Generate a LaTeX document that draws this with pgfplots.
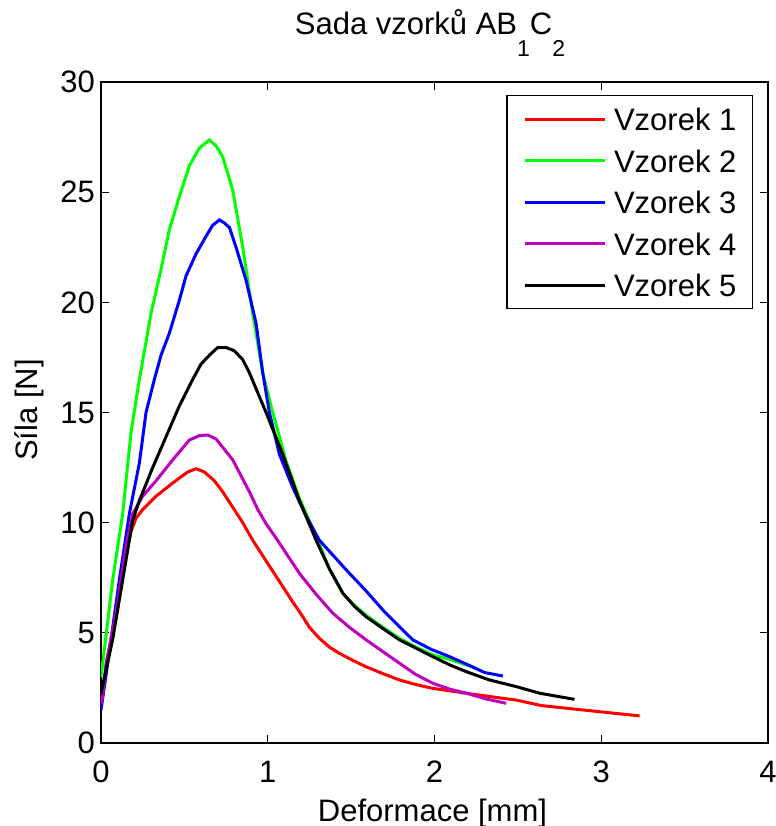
\documentclass[border=0pt]{standalone}
\usepackage{fontspec}
\setmainfont{Liberation Sans}
\usepackage{pgfplots}
\pgfplotsset{compat=1.18}
\definecolor{mred}{rgb}{1,0,0}
\definecolor{mgreen}{rgb}{0,1,0}
\definecolor{mblue}{rgb}{0,0,1}
\definecolor{mmag}{rgb}{0.75,0,0.75}
\begin{document}
\begin{tikzpicture}[font=\fontsize{15.5}{18}\selectfont]
\useasboundingbox (-50.5pt,-41.5pt) rectangle (337.5pt,371.5pt);
\begin{axis}[
  at={(0,0)}, anchor=south west,
  scale only axis, width=333.5pt, height=330.5pt,
  xmin=0, xmax=4, ymin=0, ymax=30,
  xtick={0,1,2,3,4}, ytick={0,5,10,15,20,25,30},
  /pgf/number format/assume math mode=true,
  tick label style={font=\fontsize{15.5}{18}\selectfont},
  xticklabel style={anchor=base, yshift=-19.5pt},
  yticklabel style={anchor=east, xshift=0.5pt},
  tick align=inside, major tick length=4pt,
  axis line style={line width=0.6pt},
  every tick/.style={black, line width=0.6pt},
  legend style={at={(0.9775,0.9803)}, anchor=north east,
    font=\fontsize{15.5}{18}\selectfont, draw=black, line width=0.6pt,
    inner xsep=8pt, inner ysep=6pt, row sep=9.25pt, column sep=4pt,
    nodes={inner sep=0pt, text height=11.5pt, text depth=0pt}},
  legend cell align=left,
  legend image code/.code={\draw[#1, line width=1.5pt] (0pt,0pt) -- (40pt,0pt);},
  every axis plot/.append style={line width=1.5pt, no markers},
]
\addplot[mred] coordinates {
(0.0,2.0) (0.05,4.2) (0.10,6.5) (0.15,8.6) (0.18,9.6) (0.21,10.2) (0.25,10.6) (0.33,11.2) (0.43,11.8) (0.52,12.3) (0.57,12.45) (0.62,12.3) (0.68,11.9) (0.73,11.4) (0.79,10.7) (0.85,10.0) (0.91,9.2) (0.97,8.5) (1.03,7.8) (1.09,7.1) (1.15,6.4) (1.20,5.85) (1.25,5.25) (1.31,4.75) (1.37,4.35) (1.43,4.07) (1.51,3.75) (1.59,3.46) (1.69,3.15) (1.79,2.86) (1.89,2.65) (1.99,2.48) (2.19,2.26) (2.34,2.1) (2.49,1.95) (2.64,1.7) (2.79,1.58) (2.99,1.42) (3.23,1.23)
};
\addlegendentry{Vzorek 1}
\addplot[mgreen] coordinates {
(0.0,3.0) (0.01,3.6) (0.07,7.4) (0.13,10.4) (0.18,14.1) (0.23,16.5) (0.27,18.2) (0.30,19.5) (0.36,21.5) (0.41,23.3) (0.47,24.8) (0.53,26.2) (0.59,27.0) (0.65,27.37) (0.69,27.1) (0.73,26.6) (0.79,25.1) (0.85,22.5) (0.91,19.5) (0.97,16.8) (1.03,15.0) (1.11,12.8) (1.19,11.1) (1.29,9.4) (1.37,7.9) (1.45,6.8) (1.52,6.25) (1.59,5.8) (1.69,5.25) (1.79,4.75) (1.89,4.35) (1.99,4.0) (2.09,3.8) (2.17,3.6) (2.25,3.4)
};
\addlegendentry{Vzorek 2}
\addplot[mblue] coordinates {
(0.0,1.5) (0.04,3.6) (0.11,7.4) (0.17,10.4) (0.23,12.7) (0.27,15.0) (0.32,16.5) (0.36,17.6) (0.41,18.6) (0.47,20.1) (0.51,21.2) (0.57,22.2) (0.63,23.0) (0.67,23.5) (0.71,23.74) (0.74,23.6) (0.77,23.4) (0.81,22.5) (0.87,21.0) (0.93,19.05) (0.97,16.8) (1.01,15.0) (1.07,13.1) (1.15,11.6) (1.23,10.3) (1.31,9.2) (1.40,8.45) (1.49,7.7) (1.59,6.9) (1.69,6.04) (1.78,5.35) (1.87,4.68) (1.98,4.25) (2.09,3.92) (2.20,3.55) (2.30,3.2) (2.41,3.04)
};
\addlegendentry{Vzorek 3}
\addplot[mmag] coordinates {
(0.0,1.8) (0.01,2.1) (0.03,3.6) (0.09,5.9) (0.15,8.9) (0.19,10.4) (0.25,11.2) (0.33,11.9) (0.43,12.85) (0.53,13.75) (0.59,13.95) (0.64,13.98) (0.69,13.8) (0.79,12.85) (0.89,11.4) (0.94,10.6) (0.99,9.95) (1.05,9.3) (1.12,8.5) (1.19,7.7) (1.29,6.75) (1.39,5.89) (1.49,5.25) (1.59,4.68) (1.69,4.15) (1.79,3.62) (1.89,3.1) (1.99,2.71) (2.09,2.45) (2.19,2.26) (2.31,2.0) (2.43,1.80)
};
\addlegendentry{Vzorek 4}
\addplot[black] coordinates {
(0.0,2.2) (0.01,2.6) (0.07,4.7) (0.13,7.4) (0.19,10.1) (0.23,11.0) (0.31,12.5) (0.39,13.9) (0.47,15.3) (0.55,16.5) (0.60,17.2) (0.65,17.6) (0.70,17.95) (0.75,17.95) (0.80,17.8) (0.85,17.4) (0.89,16.8) (0.94,15.9) (0.99,15.0) (1.09,13.1) (1.19,11.0) (1.29,9.2) (1.37,7.9) (1.45,6.8) (1.52,6.2) (1.59,5.73) (1.69,5.2) (1.79,4.68) (1.89,4.3) (1.99,3.92) (2.09,3.55) (2.19,3.24) (2.33,2.86) (2.49,2.56) (2.63,2.26) (2.84,1.98)
};
\addlegendentry{Vzorek 5}
\end{axis}
\node[anchor=base] at (164.5pt,354pt) {Sada vzorků AB\raisebox{-11pt}{\fontsize{11.5}{12}\selectfont 1}C\raisebox{-11pt}{\fontsize{11.5}{12}\selectfont 2}};
\node[anchor=base] at (165.75pt,-39pt) {Deformace [mm]};
\node[rotate=90, anchor=center] at (-36pt,166.5pt) {Síla [N]};
\end{tikzpicture}
\end{document}
